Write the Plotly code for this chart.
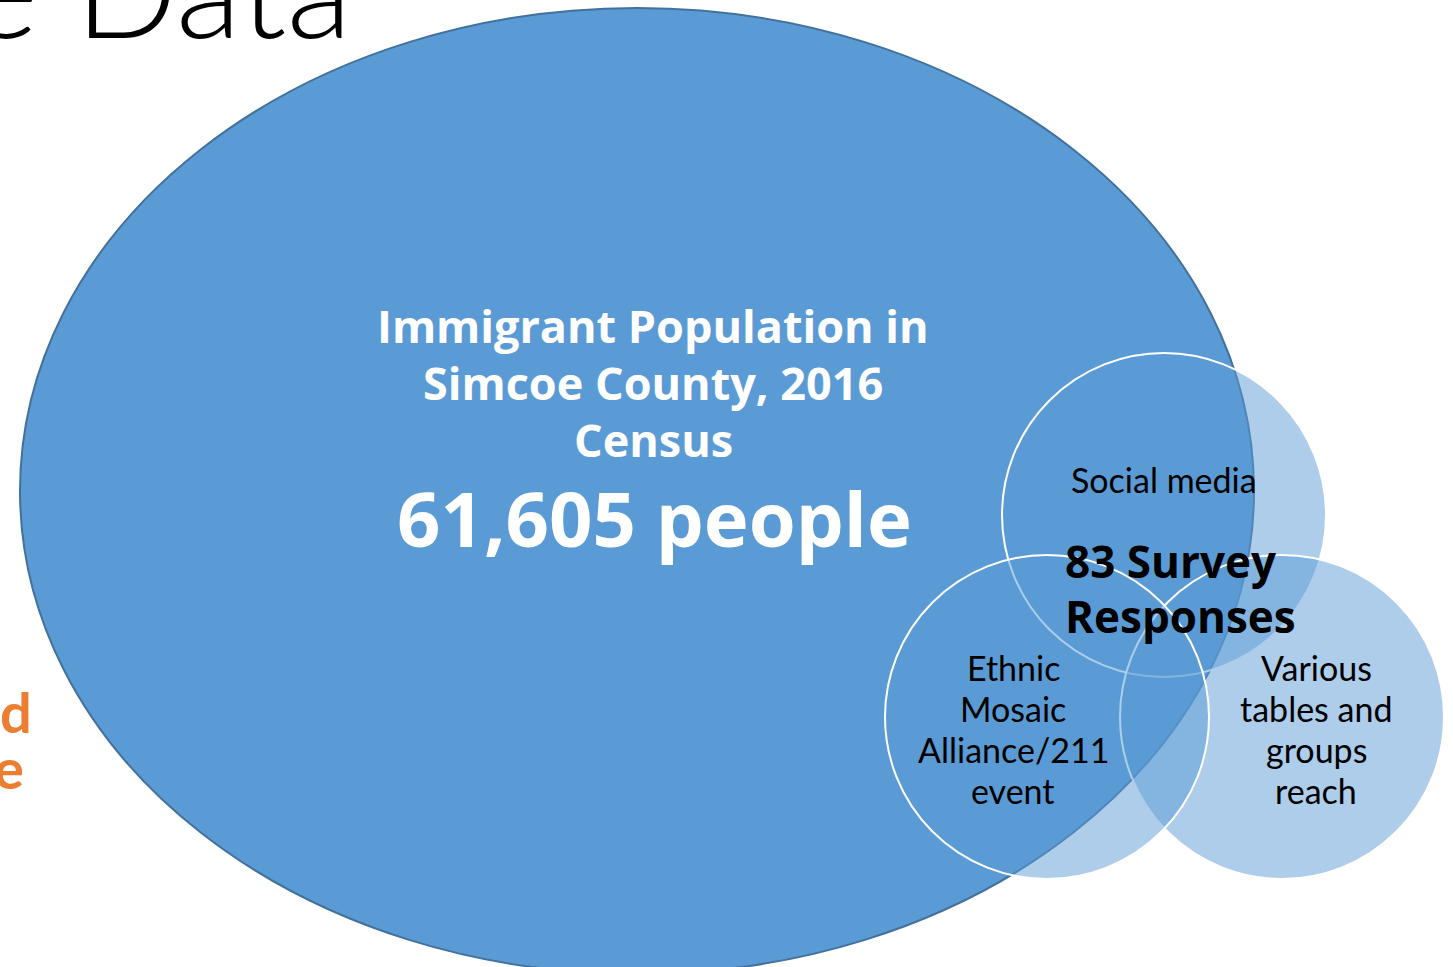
import plotly.graph_objects as go

# ---- data (text content of the diagram) ----
population_title = ["Immigrant Population in", "Simcoe County, 2016", "Census"]
population_value = "61,605 people"
survey_value = ["83 Survey", "Responses"]
social_label = ["Social media"]
various_label = ["Various", "tables and", "groups", "reach"]
ethnic_label = ["Ethnic", "Mosaic", "Alliance/211", "event"]
page_fragments = ["e Data", "d", "e"]

W, H = 1453, 967

# ---- geometry / style ----
BIG = dict(x0=20, x1=1254, y0=8, y1=974)
circles = [  # social, various, ethnic (draw order)
    dict(cx=1164, cy=515, r=162),
    dict(cx=1282, cy=717, r=162),
    dict(cx=1047, cy=717, r=162),
]

fig = go.Figure()
fig.add_trace(go.Scatter(x=[0, W], y=[0, H], mode="markers",
                         marker=dict(opacity=0), hoverinfo="skip", showlegend=False))

shapes = [dict(type="circle", xref="x", yref="y", layer="above",
               fillcolor="#5B9BD5", line=dict(color="#41719C", width=2), **BIG)]
for c in circles:
    shapes.append(dict(type="circle", xref="x", yref="y", layer="above",
                       x0=c["cx"] - c["r"], x1=c["cx"] + c["r"],
                       y0=c["cy"] - c["r"], y1=c["cy"] + c["r"],
                       fillcolor="rgba(91,155,213,0.5)",
                       line=dict(color="white", width=2)))

ann = []


def lines(texts, x, y0, dy, family, size, color, weight="normal", xanchor="center", yshift=0):
    for i, t in enumerate(texts):
        ann.append(dict(x=x, y=y0 + i * dy, text=t, showarrow=False, yshift=yshift,
                        font=dict(family=family, size=size, color=color, weight=weight),
                        xanchor=xanchor, yanchor="middle"))


# big ellipse text
lines(population_title, 653, 325, 57, "Open Sans", 45, "white", "bold")
lines([population_value], 654, 517, 0, "Open Sans", 76, "white", "bold")
# circle labels
lines(social_label, 1164, 479, 0, "Lato", 34, "black")
lines(ethnic_label, 1013, 667, 41, "Lato", 34, "black")
lines(various_label, 1316, 667, 41, "Lato", 34, "black")
lines(survey_value, 1063, 561, 55, "Open Sans", 44, "black", "bold", xanchor="left")
# slide fragments
lines([page_fragments[0]], 354, 37, 0, "Lato", 135, "black", 300, xanchor="right", yshift=51)
lines([page_fragments[1]], 34, 711, 0, "Lato", 56, "#ED7D31", "bold", xanchor="right")
lines([page_fragments[2]], 26, 767, 0, "Lato", 56, "#ED7D31", "bold", xanchor="right")

fig.update_layout(
    width=W, height=H, margin=dict(l=0, r=0, t=0, b=0),
    paper_bgcolor="white", plot_bgcolor="white",
    xaxis=dict(range=[0, W], visible=False, fixedrange=True),
    yaxis=dict(range=[H, 0], visible=False, fixedrange=True),
    shapes=shapes, annotations=ann, showlegend=False,
)
fig.write_html("out.html", config={"displayModeBar": False},
               post_script="document.body.style.margin='0px';")
